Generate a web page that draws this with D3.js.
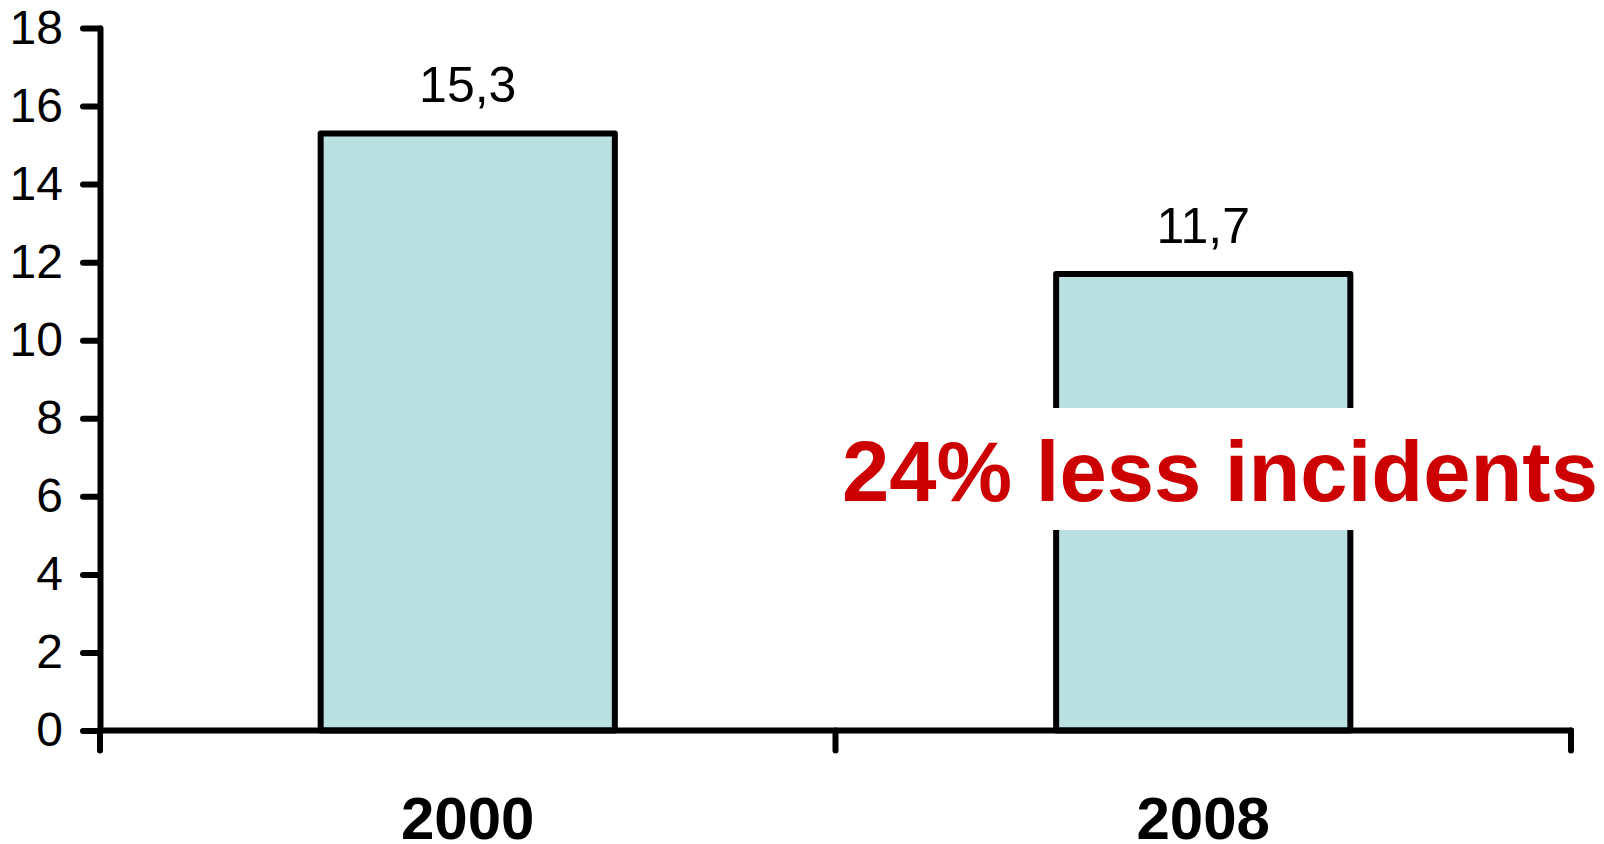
<!DOCTYPE html>
<html>
<head>
<meta charset="utf-8">
<script src="https://cdn.jsdelivr.net/npm/d3@7"></script>
<style>
  html, body { margin: 0; padding: 0; background: #fff; overflow: hidden; }
  svg { display: block; }
</style>
</head>
<body>
<svg id="chart" width="1604" height="844"></svg>
<script>
// Incidents per year
const categories = ["2000", "2008"];
const incidents = [15.3, 11.7];
const yTicks = [0, 2, 4, 6, 8, 10, 12, 14, 16, 18];
const annotation = "24% less incidents";

const FONT = "'Liberation Sans', Arial, Helvetica, sans-serif";
const plot = { left: 100, right: 1571, top: 28, bottom: 730.5 };

const svg = d3.select("#chart");

// Bars take the middle 40% of each category band
const x = d3.scaleBand().domain(categories)
  .range([plot.left, plot.right]).paddingInner(0.6).paddingOuter(0.3);
const xCat = d3.scaleBand().domain(categories)
  .range([plot.left, plot.right]).padding(0);
const y = d3.scaleLinear().domain([0, 18]).range([plot.bottom, plot.top]);

const fmt = d3.formatLocale({ decimal: ",", thousands: ".", grouping: [3], currency: ["", ""] }).format(".1f");
const data = categories.map((c, i) => ({ cat: c, value: incidents[i] }));

// Bars
svg.append("g").selectAll("rect").data(data).join("rect")
  .attr("x", d => x(d.cat))
  .attr("y", d => y(d.value))
  .attr("width", x.bandwidth())
  .attr("height", d => y(0) - y(d.value))
  .attr("fill", "#BAE0E2")
  .attr("stroke", "#000")
  .attr("stroke-width", 6)
  .attr("stroke-linejoin", "round");

// Value labels
svg.append("g").selectAll("text").data(data).join("text")
  .attr("x", d => x(d.cat) + x.bandwidth() / 2)
  .attr("y", d => y(d.value) - 31)
  .attr("text-anchor", "middle")
  .attr("font-family", FONT)
  .attr("font-size", 50)
  .attr("fill", "#000")
  .text(d => fmt(d.value));

// Y axis
const yAxis = svg.append("g")
  .attr("transform", `translate(${plot.left},0)`)
  .call(d3.axisLeft(y).tickValues(yTicks).tickSize(17).tickSizeOuter(0).tickPadding(20));
yAxis.select(".domain").attr("stroke", "#000").attr("stroke-width", 6).attr("stroke-linecap", "round");
yAxis.selectAll(".tick line").attr("stroke", "#000").attr("stroke-width", 6).attr("stroke-linecap", "round");
yAxis.selectAll(".tick text")
  .attr("font-family", FONT).attr("font-size", 48).attr("fill", "#000");

// X axis: baseline plus ticks at band boundaries
const xAxis = svg.append("g");
xAxis.append("line")
  .attr("x1", plot.left).attr("x2", plot.right)
  .attr("y1", y(0)).attr("y2", y(0))
  .attr("stroke", "#000").attr("stroke-width", 6).attr("stroke-linecap", "round");
const boundaries = [plot.left].concat(categories.map(c => xCat(c) + xCat.bandwidth()));
xAxis.selectAll("line.tick").data(boundaries).join("line")
  .attr("class", "tick")
  .attr("x1", d => d).attr("x2", d => d)
  .attr("y1", y(0)).attr("y2", y(0) + 20)
  .attr("stroke", "#000").attr("stroke-width", 6).attr("stroke-linecap", "round");
xAxis.selectAll("text").data(categories).join("text")
  .attr("x", c => xCat(c) + xCat.bandwidth() / 2)
  .attr("y", 839)
  .attr("text-anchor", "middle")
  .attr("font-family", FONT)
  .attr("font-size", 60)
  .attr("font-weight", "bold")
  .attr("fill", "#000")
  .text(c => c);

// Annotation on a white panel
const note = svg.append("g");
const noteBg = note.append("rect").attr("fill", "#fff");
const noteText = note.append("text")
  .attr("x", 1220)
  .attr("y", 501)
  .attr("text-anchor", "middle")
  .attr("font-family", FONT)
  .attr("font-size", 85)
  .attr("font-weight", "bold")
  .attr("fill", "#CC0000")
  .text(annotation);
const bb = noteText.node().getBBox();
noteBg.attr("x", bb.x - 10).attr("width", bb.width + 20)
  .attr("y", 501 - 93).attr("height", 122);
</script>
</body>
</html>
